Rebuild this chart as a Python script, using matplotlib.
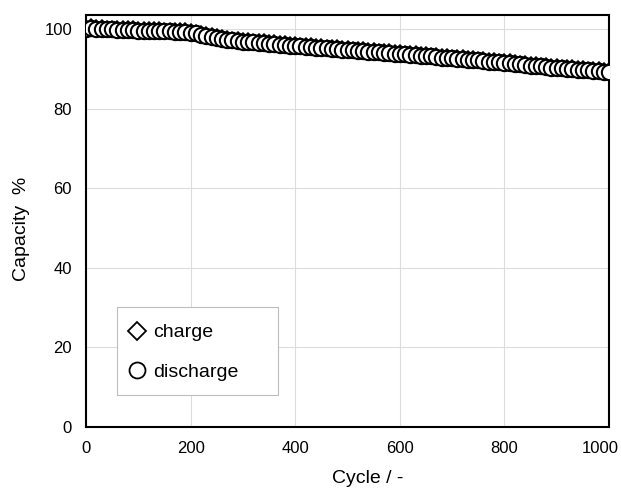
import matplotlib
matplotlib.use("Agg")
import matplotlib.pyplot as plt
import matplotlib.transforms as mtransforms
from matplotlib.patches import Rectangle

plt.rcParams['font.family'] = ['Liberation Sans', 'DejaVu Sans']

cycles = list(range(0, 1001, 10))

discharge = [
    100.0, 100.2, 100.1, 100.0, 99.9, 99.9, 99.8, 99.8, 99.7, 99.7,
    99.6, 99.6, 99.6, 99.5, 99.5, 99.4, 99.4, 99.3, 99.3, 99.2, 99.1,
    98.9, 98.6, 98.3, 98.0, 97.7, 97.5, 97.3, 97.1, 96.9, 96.8,
    96.7, 96.6, 96.5, 96.4, 96.3, 96.2, 96.0, 95.9, 95.8, 95.7,
    95.6, 95.5, 95.4, 95.3, 95.2, 95.1, 95.0, 94.9, 94.8, 94.7,
    94.6, 94.5, 94.4, 94.3, 94.2, 94.1, 94.0, 93.9, 93.8, 93.7,
    93.6, 93.5, 93.4, 93.3, 93.2, 93.1, 93.0, 92.8, 92.7, 92.6,
    92.5, 92.4, 92.3, 92.2, 92.1, 91.9, 91.8, 91.7, 91.6, 91.5,
    91.4, 91.2, 91.1, 91.0, 90.8, 90.7, 90.6, 90.5, 90.3, 90.2,
    90.1, 90.0, 89.9, 89.8, 89.7, 89.6, 89.5, 89.4, 89.3, 89.2,
]

charge = [
    100.7, 100.9, 100.8, 100.7, 100.6, 100.6, 100.5, 100.5, 100.4, 100.4,
    100.3, 100.3, 100.3, 100.2, 100.2, 100.1, 100.1, 100.0, 100.0, 99.9, 99.8,
    99.6, 99.3, 99.0, 98.7, 98.4, 98.2, 98.0, 97.8, 97.6, 97.5,
    97.4, 97.3, 97.2, 97.1, 97.0, 96.9, 96.7, 96.6, 96.5, 96.4,
    96.3, 96.2, 96.1, 96.0, 95.9, 95.8, 95.7, 95.6, 95.5, 95.4,
    95.3, 95.2, 95.1, 95.0, 94.9, 94.8, 94.7, 94.6, 94.5, 94.4,
    94.3, 94.2, 94.1, 94.0, 93.9, 93.8, 93.7, 93.5, 93.4, 93.3,
    93.2, 93.1, 93.0, 92.9, 92.8, 92.6, 92.5, 92.4, 92.3, 92.2,
    92.1, 91.9, 91.8, 91.7, 91.5, 91.4, 91.3, 91.2, 91.0, 90.9,
    90.8, 90.7, 90.6, 90.5, 90.4, 90.3, 90.2, 90.1, 90.0, 89.9,
]

xticks = [0, 200, 400, 600, 800, 1000]
yticks = [0, 20, 40, 60, 80, 100]

fig = plt.figure(figsize=(6.21, 4.92), dpi=100)
ax = fig.add_axes([0.1385, 0.1321, 0.8422, 0.8374])

ax.plot(cycles, charge, linestyle='none', marker='D', markersize=6.5,
        markerfacecolor='white', markeredgecolor='black', markeredgewidth=1.1,
        label='charge', zorder=3)
ax.plot(cycles, discharge, linestyle='none', marker='o', markersize=11,
        markerfacecolor='white', markeredgecolor='black', markeredgewidth=1.5,
        label='discharge', zorder=4)

ax.set_xlim(0, 1000)
ax.set_ylim(0, 103.5)
ax.set_xticks(xticks)
ax.set_yticks(yticks)
ax.tick_params(length=0, labelsize=12, pad=10)
ax.grid(True, color='#dcdcdc', linewidth=0.8)
ax.set_axisbelow(True)
for s in ax.spines.values():
    s.set_linewidth(1.5)
    s.set_color('black')

# keep "1000" inside the picture
last = ax.get_xticklabels()[-1]
last.set_transform(last.get_transform() +
                   mtransforms.ScaledTranslation(-6 / 72, 0, fig.dpi_scale_trans))

ax.set_xlabel('Cycle / -', fontsize=14)
ax.set_ylabel('Capacity  %', fontsize=14)
ax.xaxis.set_label_coords(0.538, -0.105)
ax.yaxis.set_label_coords(-0.107, 0.48)

# legend frame drawn by hand, it is wider than the entries
ax.add_patch(Rectangle((117 / 621, 1 - 395 / 492), 161 / 621, 88 / 492,
                       transform=fig.transFigure, facecolor='white',
                       edgecolor='#bdbdbd', linewidth=0.8, zorder=5))

leg = ax.legend(loc='center left', bbox_to_anchor=(127 / 621, 1 - 352.5 / 492),
                bbox_transform=fig.transFigure, borderaxespad=0, borderpad=0,
                fontsize=14, frameon=False, handlelength=1.06, handletextpad=0.3,
                labelspacing=1.15)
leg.set_zorder(6)
leg.legend_handles[0].set_markersize(9.3)
leg.legend_handles[1].set_markersize(11.5)
leg.legend_handles[0].set_markeredgewidth(1.3)
leg.legend_handles[1].set_markeredgewidth(1.3)

fig.savefig('out.png', dpi=100)
